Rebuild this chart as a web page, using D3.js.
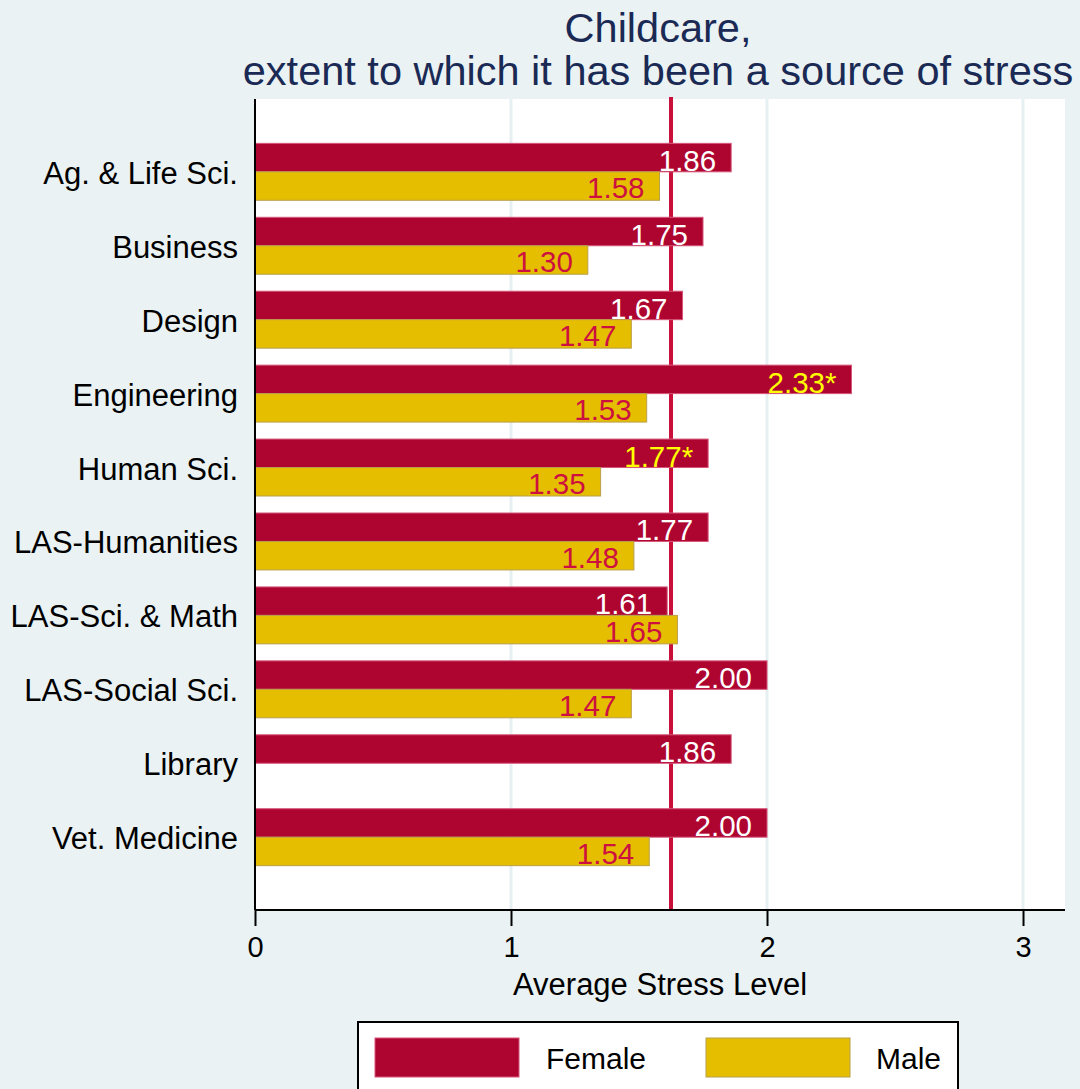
<!DOCTYPE html>
<html>
<head>
<meta charset="utf-8">
<script src="https://cdn.jsdelivr.net/npm/d3@7"></script>
<style>
  html, body { margin: 0; padding: 0; background: #eaf2f3; }
  svg { display: block; }
  text { font-family: "Liberation Sans", Arial, sans-serif; }
</style>
</head>
<body>
<script>
// ---- data ----
const categories = ["Ag. & Life Sci.", "Business", "Design", "Engineering", "Human Sci.",
  "LAS-Humanities", "LAS-Sci. & Math", "LAS-Social Sci.", "Library", "Vet. Medicine"];
const female = [1.86, 1.75, 1.67, 2.33, 1.77, 1.77, 1.61, 2.00, 1.86, 2.00];
const male = [1.58, 1.30, 1.47, 1.53, 1.35, 1.48, 1.65, 1.47, null, 1.54];
const femaleStar = [false, false, false, true, true, false, false, false, false, false];
const maleStar = [false, false, false, false, false, false, false, false, false, false];
const overallMean = 1.625;
const xTicks = [0, 1, 2, 3];
const seriesNames = ["Female", "Male"];
const titleLines = ["Childcare,", "extent to which it has been a source of stress"];
const xTitle = "Average Stress Level";

// ---- layout ----
const W = 1080, H = 1089;
const plot = { left: 255, right: 1065, top: 99, bottom: 910 };
const colFemale = "#ae0530", colMale = "#e6be00";

const svg = d3.select("body").append("svg").attr("width", W).attr("height", H);
svg.append("rect").attr("width", W).attr("height", H).attr("fill", "#eaf2f3");

const x = d3.scaleLinear().domain([0, 3.164]).range([plot.left, plot.right]);
const y = d3.scaleBand().domain(categories).range([plot.top, plot.bottom])
  .paddingInner(0.23).paddingOuter(0.6);
const sub = d3.scaleBand().domain(seriesNames).range([0, y.bandwidth()]).padding(0);

// plot area
svg.append("rect").attr("x", plot.left).attr("y", plot.top)
  .attr("width", plot.right - plot.left).attr("height", plot.bottom - plot.top)
  .attr("fill", "#ffffff");

// gridlines
svg.append("g").selectAll("line").data(xTicks.filter(d => d > 0)).join("line")
  .attr("x1", d => x(d)).attr("x2", d => x(d))
  .attr("y1", plot.top).attr("y2", plot.bottom)
  .attr("stroke", "#e6eff1").attr("stroke-width", 3);

// mean line
svg.append("line").attr("x1", x(overallMean)).attr("x2", x(overallMean))
  .attr("y1", plot.top - 2).attr("y2", plot.bottom)
  .attr("stroke", "#c8103a").attr("stroke-width", 4);

// bars
const rows = categories.map((c, i) => ({ c, f: female[i], m: male[i], fs: femaleStar[i], ms: maleStar[i] }));
const gBars = svg.append("g");
gBars.selectAll("rect.f").data(rows).join("rect").attr("class", "f")
  .attr("x", x(0)).attr("y", d => y(d.c) + sub("Female"))
  .attr("width", d => x(d.f) - x(0)).attr("height", sub.bandwidth())
  .attr("fill", colFemale).attr("stroke", "#d6577a").attr("stroke-width", 1);
gBars.selectAll("rect.m").data(rows.filter(d => d.m != null)).join("rect").attr("class", "m")
  .attr("x", x(0)).attr("y", d => y(d.c) + sub("Male"))
  .attr("width", d => x(d.m) - x(0)).attr("height", sub.bandwidth())
  .attr("fill", colMale).attr("stroke", "#b89f4a").attr("stroke-width", 1);

// value labels
const gLab = svg.append("g").attr("font-size", 29.5);
gLab.selectAll("text.f").data(rows).join("text").attr("class", "f")
  .attr("x", d => x(d.f) - 15).attr("y", d => y(d.c) + sub("Female") + sub.bandwidth() - 1)
  .attr("text-anchor", "end")
  .attr("fill", d => d.fs ? "#ffff00" : "#ffffff")
  .text(d => d.f.toFixed(2) + (d.fs ? "*" : ""));
gLab.selectAll("text.m").data(rows.filter(d => d.m != null)).join("text").attr("class", "m")
  .attr("x", d => x(d.m) - 15).attr("y", d => y(d.c) + sub("Male") + sub.bandwidth() - 2)
  .attr("text-anchor", "end")
  .attr("fill", d => d.ms ? "#ffff00" : "#cc1040")
  .text(d => d.m.toFixed(2) + (d.ms ? "*" : ""));

// y axis
svg.append("line").attr("x1", plot.left).attr("x2", plot.left)
  .attr("y1", plot.top).attr("y2", plot.bottom).attr("stroke", "#000").attr("stroke-width", 2);
svg.append("g").attr("font-size", 31).selectAll("text").data(categories).join("text")
  .attr("x", plot.left - 17).attr("y", d => y(d) + y.bandwidth() / 2 + 12)
  .attr("text-anchor", "end").attr("fill", "#000").text(d => d);

// x axis
const xAxis = d3.axisBottom(x).tickValues(xTicks).tickSize(16).tickPadding(10).tickFormat(d3.format("d"));
const gx = svg.append("g").attr("transform", `translate(0,${plot.bottom})`).call(xAxis);
gx.select(".domain").attr("stroke", "#000").attr("stroke-width", 2)
  .attr("d", `M${plot.left},0H${plot.right}`);
gx.selectAll(".tick line").attr("stroke", "#000").attr("stroke-width", 2);
gx.selectAll(".tick text").attr("font-size", 29).attr("fill", "#000")
  .attr("font-family", "Liberation Sans, Arial, sans-serif");

svg.append("text").attr("x", 660).attr("y", 995)
  .attr("text-anchor", "middle").attr("font-size", 31).attr("fill", "#000").text(xTitle);

// title
const midX = (plot.left + plot.right) / 2;
svg.append("g").attr("font-size", 41.5).attr("fill", "#1a2a55").attr("text-anchor", "middle")
  .selectAll("text").data(titleLines).join("text")
  .attr("x", midX - 2).attr("y", (d, i) => 42 + i * 43).text(d => d);

// legend
const lg = svg.append("g");
lg.append("rect").attr("x", 358).attr("y", 1022).attr("width", 600).attr("height", 90)
  .attr("fill", "#fff").attr("stroke", "#000").attr("stroke-width", 2);
const legendItems = [
  { name: seriesNames[0], fill: colFemale, stroke: "#d6577a", sx: 375, tx: 546 },
  { name: seriesNames[1], fill: colMale, stroke: "#b89f4a", sx: 706, tx: 876 }
];
lg.selectAll("rect.sw").data(legendItems).join("rect").attr("class", "sw")
  .attr("x", d => d.sx).attr("y", 1038).attr("width", 144).attr("height", 39)
  .attr("fill", d => d.fill).attr("stroke", d => d.stroke).attr("stroke-width", 1);
lg.selectAll("text").data(legendItems).join("text")
  .attr("x", d => d.tx).attr("y", 1069).attr("font-size", 30).attr("fill", "#000")
  .text(d => d.name);
</script>
</body>
</html>
